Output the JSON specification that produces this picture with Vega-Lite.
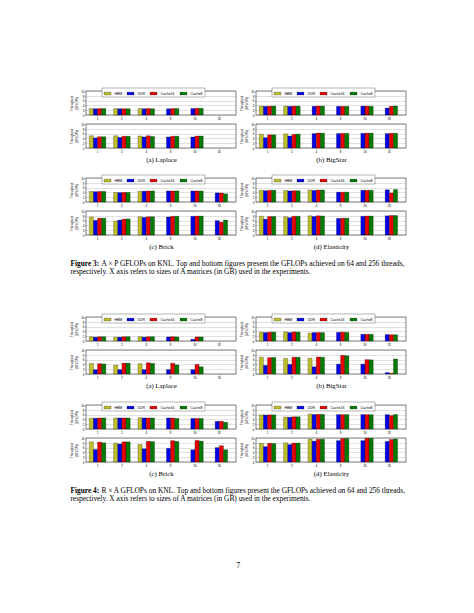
{
"$schema": "https://vega.github.io/schema/vega-lite/v6.json",
"background": "white",
"padding": {"left": 70, "top": 87, "right": 0, "bottom": 0},
"config": {
 "font": "Liberation Sans",
 "view": {"stroke": "black", "strokeWidth": 0.5},
 "range": {"category": ["#bfbf2a", "#0000e6", "#e60000", "#007a00"]},
 "bar": {"stroke": "black", "strokeWidth": 0.25},
 "axis": {"labelFontSize": 3, "labelColor": "black", "tickSize": 1, "tickColor": "black", "tickWidth": 0.3, "labelPadding": 1, "domain": false, "labelOverlap": false},
 "axisX": {"labelAngle": 0, "titleFont": "Liberation Serif", "titleFontSize": 6.8, "titleFontWeight": "normal", "titlePadding": 3, "titleColor": "black"},
 "axisY": {"grid": true, "gridColor": "#999999", "gridWidth": 0.3, "titleFontSize": 3, "titleFontWeight": "normal", "titlePadding": 2, "titleColor": "black", "labelFlush": false},
 "legend": {"orient": "none", "legendX": 16, "legendY": -3, "direction": "horizontal", "columns": 4, "symbolType": "M-1,-0.4H1V0.4H-1Z", "symbolSize": 49, "symbolStrokeWidth": 0.25, "symbolStrokeColor": "black", "symbolOpacity": 1, "labelFontSize": 3.5, "labelColor": "black", "labelOffset": 3, "columnPadding": 4, "padding": 1.5, "strokeColor": "black", "strokeWidth": 0.3, "fillColor": "white"}
},
"datasets": {
"f3a": [
{"threads":64,"size":"1","mem":"HBM","gflops":2.7},{"threads":64,"size":"1","mem":"DDR","gflops":2.6},{"threads":64,"size":"1","mem":"Cache16","gflops":2.7},{"threads":64,"size":"1","mem":"Cache8","gflops":2.7},
{"threads":64,"size":"2","mem":"HBM","gflops":2.7},{"threads":64,"size":"2","mem":"DDR","gflops":2.6},{"threads":64,"size":"2","mem":"Cache16","gflops":2.6},{"threads":64,"size":"2","mem":"Cache8","gflops":2.6},
{"threads":64,"size":"4","mem":"HBM","gflops":2.7},{"threads":64,"size":"4","mem":"DDR","gflops":2.6},{"threads":64,"size":"4","mem":"Cache16","gflops":2.7},{"threads":64,"size":"4","mem":"Cache8","gflops":2.6},
{"threads":64,"size":"8","mem":"DDR","gflops":2.6},{"threads":64,"size":"8","mem":"Cache16","gflops":2.7},{"threads":64,"size":"8","mem":"Cache8","gflops":2.7},
{"threads":64,"size":"16","mem":"DDR","gflops":2.7},{"threads":64,"size":"16","mem":"Cache16","gflops":2.8},{"threads":64,"size":"16","mem":"Cache8","gflops":2.8},
{"threads":256,"size":"1","mem":"HBM","gflops":5.1},{"threads":256,"size":"1","mem":"DDR","gflops":4.2},{"threads":256,"size":"1","mem":"Cache16","gflops":4.7},{"threads":256,"size":"1","mem":"Cache8","gflops":4.7},
{"threads":256,"size":"2","mem":"HBM","gflops":5.1},{"threads":256,"size":"2","mem":"DDR","gflops":4.4},{"threads":256,"size":"2","mem":"Cache16","gflops":4.9},{"threads":256,"size":"2","mem":"Cache8","gflops":4.9},
{"threads":256,"size":"4","mem":"HBM","gflops":5.0},{"threads":256,"size":"4","mem":"DDR","gflops":4.6},{"threads":256,"size":"4","mem":"Cache16","gflops":5.1},{"threads":256,"size":"4","mem":"Cache8","gflops":4.8},
{"threads":256,"size":"8","mem":"DDR","gflops":4.6},{"threads":256,"size":"8","mem":"Cache16","gflops":4.9},{"threads":256,"size":"8","mem":"Cache8","gflops":4.9},
{"threads":256,"size":"16","mem":"DDR","gflops":4.6},{"threads":256,"size":"16","mem":"Cache16","gflops":5.0},{"threads":256,"size":"16","mem":"Cache8","gflops":5.0}
],
"f3b": [
{"threads":64,"size":"1","mem":"HBM","gflops":3.7},{"threads":64,"size":"1","mem":"DDR","gflops":3.6},{"threads":64,"size":"1","mem":"Cache16","gflops":3.7},{"threads":64,"size":"1","mem":"Cache8","gflops":3.7},
{"threads":64,"size":"2","mem":"HBM","gflops":3.7},{"threads":64,"size":"2","mem":"DDR","gflops":3.6},{"threads":64,"size":"2","mem":"Cache16","gflops":3.7},{"threads":64,"size":"2","mem":"Cache8","gflops":3.7},
{"threads":64,"size":"4","mem":"DDR","gflops":3.6},{"threads":64,"size":"4","mem":"Cache16","gflops":3.7},{"threads":64,"size":"4","mem":"Cache8","gflops":3.7},
{"threads":64,"size":"8","mem":"DDR","gflops":3.6},{"threads":64,"size":"8","mem":"Cache16","gflops":3.6},{"threads":64,"size":"8","mem":"Cache8","gflops":3.6},
{"threads":64,"size":"16","mem":"DDR","gflops":3.7},{"threads":64,"size":"16","mem":"Cache16","gflops":3.7},{"threads":64,"size":"16","mem":"Cache8","gflops":3.6},
{"threads":64,"size":"32","mem":"DDR","gflops":2.9},{"threads":64,"size":"32","mem":"Cache16","gflops":3.6},{"threads":64,"size":"32","mem":"Cache8","gflops":3.7},
{"threads":256,"size":"1","mem":"HBM","gflops":5.8},{"threads":256,"size":"1","mem":"DDR","gflops":4.3},{"threads":256,"size":"1","mem":"Cache16","gflops":5.5},{"threads":256,"size":"1","mem":"Cache8","gflops":5.5},
{"threads":256,"size":"2","mem":"HBM","gflops":5.9},{"threads":256,"size":"2","mem":"DDR","gflops":5.0},{"threads":256,"size":"2","mem":"Cache16","gflops":5.7},{"threads":256,"size":"2","mem":"Cache8","gflops":5.8},
{"threads":256,"size":"4","mem":"DDR","gflops":6.0},{"threads":256,"size":"4","mem":"Cache16","gflops":6.2},{"threads":256,"size":"4","mem":"Cache8","gflops":6.2},
{"threads":256,"size":"8","mem":"DDR","gflops":6.0},{"threads":256,"size":"8","mem":"Cache16","gflops":6.1},{"threads":256,"size":"8","mem":"Cache8","gflops":6.1},
{"threads":256,"size":"16","mem":"DDR","gflops":6.1},{"threads":256,"size":"16","mem":"Cache16","gflops":6.2},{"threads":256,"size":"16","mem":"Cache8","gflops":6.2},
{"threads":256,"size":"32","mem":"DDR","gflops":6.0},{"threads":256,"size":"32","mem":"Cache16","gflops":6.1},{"threads":256,"size":"32","mem":"Cache8","gflops":6.1}
],
"f3c": [
{"threads":64,"size":"1","mem":"HBM","gflops":4.4},{"threads":64,"size":"1","mem":"DDR","gflops":4.3},{"threads":64,"size":"1","mem":"Cache16","gflops":4.4},{"threads":64,"size":"1","mem":"Cache8","gflops":4.4},
{"threads":64,"size":"2","mem":"HBM","gflops":4.0},{"threads":64,"size":"2","mem":"DDR","gflops":3.9},{"threads":64,"size":"2","mem":"Cache16","gflops":4.0},{"threads":64,"size":"2","mem":"Cache8","gflops":4.0},
{"threads":64,"size":"4","mem":"HBM","gflops":4.5},{"threads":64,"size":"4","mem":"DDR","gflops":4.5},{"threads":64,"size":"4","mem":"Cache16","gflops":4.6},{"threads":64,"size":"4","mem":"Cache8","gflops":4.6},
{"threads":64,"size":"8","mem":"DDR","gflops":4.6},{"threads":64,"size":"8","mem":"Cache16","gflops":4.6},{"threads":64,"size":"8","mem":"Cache8","gflops":4.6},
{"threads":64,"size":"16","mem":"DDR","gflops":4.6},{"threads":64,"size":"16","mem":"Cache16","gflops":4.6},{"threads":64,"size":"16","mem":"Cache8","gflops":4.6},
{"threads":64,"size":"32","mem":"DDR","gflops":3.8},{"threads":64,"size":"32","mem":"Cache16","gflops":3.7},{"threads":64,"size":"32","mem":"Cache8","gflops":3.4},
{"threads":256,"size":"1","mem":"HBM","gflops":7.5},{"threads":256,"size":"1","mem":"DDR","gflops":6.1},{"threads":256,"size":"1","mem":"Cache16","gflops":7.0},{"threads":256,"size":"1","mem":"Cache8","gflops":7.0},
{"threads":256,"size":"2","mem":"HBM","gflops":5.8},{"threads":256,"size":"2","mem":"DDR","gflops":6.2},{"threads":256,"size":"2","mem":"Cache16","gflops":6.6},{"threads":256,"size":"2","mem":"Cache8","gflops":6.7},
{"threads":256,"size":"4","mem":"HBM","gflops":7.6},{"threads":256,"size":"4","mem":"DDR","gflops":7.3},{"threads":256,"size":"4","mem":"Cache16","gflops":7.6},{"threads":256,"size":"4","mem":"Cache8","gflops":7.6},
{"threads":256,"size":"8","mem":"DDR","gflops":7.5},{"threads":256,"size":"8","mem":"Cache16","gflops":7.8},{"threads":256,"size":"8","mem":"Cache8","gflops":7.8},
{"threads":256,"size":"16","mem":"DDR","gflops":7.8},{"threads":256,"size":"16","mem":"Cache16","gflops":7.9},{"threads":256,"size":"16","mem":"Cache8","gflops":7.9},
{"threads":256,"size":"32","mem":"DDR","gflops":6.0},{"threads":256,"size":"32","mem":"Cache16","gflops":5.3},{"threads":256,"size":"32","mem":"Cache8","gflops":6.2}
],
"f3d": [
{"threads":64,"size":"1","mem":"HBM","gflops":4.9},{"threads":64,"size":"1","mem":"DDR","gflops":4.7},{"threads":64,"size":"1","mem":"Cache16","gflops":4.9},{"threads":64,"size":"1","mem":"Cache8","gflops":4.9},
{"threads":64,"size":"2","mem":"HBM","gflops":4.8},{"threads":64,"size":"2","mem":"DDR","gflops":4.6},{"threads":64,"size":"2","mem":"Cache16","gflops":4.7},{"threads":64,"size":"2","mem":"Cache8","gflops":4.7},
{"threads":64,"size":"4","mem":"HBM","gflops":5.0},{"threads":64,"size":"4","mem":"DDR","gflops":4.8},{"threads":64,"size":"4","mem":"Cache16","gflops":5.0},{"threads":64,"size":"4","mem":"Cache8","gflops":5.0},
{"threads":64,"size":"8","mem":"DDR","gflops":4.1},{"threads":64,"size":"8","mem":"Cache16","gflops":4.1},{"threads":64,"size":"8","mem":"Cache8","gflops":4.1},
{"threads":64,"size":"16","mem":"DDR","gflops":4.9},{"threads":64,"size":"16","mem":"Cache16","gflops":4.9},{"threads":64,"size":"16","mem":"Cache8","gflops":4.9},
{"threads":64,"size":"32","mem":"DDR","gflops":5.1},{"threads":64,"size":"32","mem":"Cache16","gflops":3.8},{"threads":64,"size":"32","mem":"Cache8","gflops":5.2},
{"threads":256,"size":"1","mem":"HBM","gflops":7.8},{"threads":256,"size":"1","mem":"DDR","gflops":6.6},{"threads":256,"size":"1","mem":"Cache16","gflops":7.7},{"threads":256,"size":"1","mem":"Cache8","gflops":7.7},
{"threads":256,"size":"2","mem":"HBM","gflops":7.6},{"threads":256,"size":"2","mem":"DDR","gflops":7.2},{"threads":256,"size":"2","mem":"Cache16","gflops":7.8},{"threads":256,"size":"2","mem":"Cache8","gflops":7.8},
{"threads":256,"size":"4","mem":"HBM","gflops":8.0},{"threads":256,"size":"4","mem":"DDR","gflops":7.7},{"threads":256,"size":"4","mem":"Cache16","gflops":8.0},{"threads":256,"size":"4","mem":"Cache8","gflops":7.9},
{"threads":256,"size":"8","mem":"DDR","gflops":6.9},{"threads":256,"size":"8","mem":"Cache16","gflops":7.0},{"threads":256,"size":"8","mem":"Cache8","gflops":7.0},
{"threads":256,"size":"16","mem":"DDR","gflops":7.8},{"threads":256,"size":"16","mem":"Cache16","gflops":7.9},{"threads":256,"size":"16","mem":"Cache8","gflops":7.9},
{"threads":256,"size":"32","mem":"DDR","gflops":8.0},{"threads":256,"size":"32","mem":"Cache16","gflops":8.1},{"threads":256,"size":"32","mem":"Cache8","gflops":8.1}
],
"f4a": [
{"threads":64,"size":"1","mem":"HBM","gflops":1.8},{"threads":64,"size":"1","mem":"DDR","gflops":1.6},{"threads":64,"size":"1","mem":"Cache16","gflops":1.8},{"threads":64,"size":"1","mem":"Cache8","gflops":1.8},
{"threads":64,"size":"2","mem":"HBM","gflops":1.6},{"threads":64,"size":"2","mem":"DDR","gflops":1.6},{"threads":64,"size":"2","mem":"Cache16","gflops":1.8},{"threads":64,"size":"2","mem":"Cache8","gflops":1.8},
{"threads":64,"size":"4","mem":"HBM","gflops":1.8},{"threads":64,"size":"4","mem":"DDR","gflops":1.6},{"threads":64,"size":"4","mem":"Cache16","gflops":1.8},{"threads":64,"size":"4","mem":"Cache8","gflops":1.8},
{"threads":64,"size":"8","mem":"DDR","gflops":1.7},{"threads":64,"size":"8","mem":"Cache16","gflops":1.8},{"threads":64,"size":"8","mem":"Cache8","gflops":1.7},
{"threads":64,"size":"16","mem":"DDR","gflops":0.7},{"threads":64,"size":"16","mem":"Cache16","gflops":1.7},{"threads":64,"size":"16","mem":"Cache8","gflops":1.7},
{"threads":256,"size":"1","mem":"HBM","gflops":4.4},{"threads":256,"size":"1","mem":"DDR","gflops":1.8},{"threads":256,"size":"1","mem":"Cache16","gflops":4.3},{"threads":256,"size":"1","mem":"Cache8","gflops":4.2},
{"threads":256,"size":"2","mem":"HBM","gflops":3.7},{"threads":256,"size":"2","mem":"DDR","gflops":1.8},{"threads":256,"size":"2","mem":"Cache16","gflops":4.5},{"threads":256,"size":"2","mem":"Cache8","gflops":4.5},
{"threads":256,"size":"4","mem":"HBM","gflops":4.3},{"threads":256,"size":"4","mem":"DDR","gflops":1.8},{"threads":256,"size":"4","mem":"Cache16","gflops":4.7},{"threads":256,"size":"4","mem":"Cache8","gflops":4.4},
{"threads":256,"size":"8","mem":"DDR","gflops":1.8},{"threads":256,"size":"8","mem":"Cache16","gflops":4.5},{"threads":256,"size":"8","mem":"Cache8","gflops":3.8},
{"threads":256,"size":"16","mem":"DDR","gflops":1.8},{"threads":256,"size":"16","mem":"Cache16","gflops":4.0},{"threads":256,"size":"16","mem":"Cache8","gflops":3.0}
],
"f4b": [
{"threads":64,"size":"1","mem":"HBM","gflops":3.7},{"threads":64,"size":"1","mem":"DDR","gflops":3.5},{"threads":64,"size":"1","mem":"Cache16","gflops":3.7},{"threads":64,"size":"1","mem":"Cache8","gflops":3.7},
{"threads":64,"size":"2","mem":"HBM","gflops":3.8},{"threads":64,"size":"2","mem":"DDR","gflops":3.5},{"threads":64,"size":"2","mem":"Cache16","gflops":3.8},{"threads":64,"size":"2","mem":"Cache8","gflops":3.7},
{"threads":64,"size":"4","mem":"HBM","gflops":3.3},{"threads":64,"size":"4","mem":"DDR","gflops":3.5},{"threads":64,"size":"4","mem":"Cache16","gflops":3.5},{"threads":64,"size":"4","mem":"Cache8","gflops":3.5},
{"threads":64,"size":"8","mem":"DDR","gflops":3.6},{"threads":64,"size":"8","mem":"Cache16","gflops":3.7},{"threads":64,"size":"8","mem":"Cache8","gflops":3.6},
{"threads":64,"size":"16","mem":"DDR","gflops":2.8},{"threads":64,"size":"16","mem":"Cache16","gflops":2.8},{"threads":64,"size":"16","mem":"Cache8","gflops":2.8},
{"threads":64,"size":"32","mem":"DDR","gflops":2.7},{"threads":64,"size":"32","mem":"Cache16","gflops":2.6},{"threads":64,"size":"32","mem":"Cache8","gflops":2.6},
{"threads":256,"size":"1","mem":"HBM","gflops":7.0},{"threads":256,"size":"1","mem":"DDR","gflops":3.6},{"threads":256,"size":"1","mem":"Cache16","gflops":6.8},{"threads":256,"size":"1","mem":"Cache8","gflops":6.9},
{"threads":256,"size":"2","mem":"HBM","gflops":6.5},{"threads":256,"size":"2","mem":"DDR","gflops":4.0},{"threads":256,"size":"2","mem":"Cache16","gflops":7.0},{"threads":256,"size":"2","mem":"Cache8","gflops":7.0},
{"threads":256,"size":"4","mem":"HBM","gflops":6.6},{"threads":256,"size":"4","mem":"DDR","gflops":3.0},{"threads":256,"size":"4","mem":"Cache16","gflops":7.1},{"threads":256,"size":"4","mem":"Cache8","gflops":7.0},
{"threads":256,"size":"8","mem":"DDR","gflops":4.1},{"threads":256,"size":"8","mem":"Cache16","gflops":7.8},{"threads":256,"size":"8","mem":"Cache8","gflops":7.6},
{"threads":256,"size":"16","mem":"DDR","gflops":4.1},{"threads":256,"size":"16","mem":"Cache16","gflops":6.0},{"threads":256,"size":"16","mem":"Cache8","gflops":5.9},
{"threads":256,"size":"32","mem":"DDR","gflops":0.6},{"threads":256,"size":"32","mem":"Cache16","gflops":0.3},{"threads":256,"size":"32","mem":"Cache8","gflops":6.3}
],
"f4c": [
{"threads":64,"size":"1","mem":"HBM","gflops":4.5},{"threads":64,"size":"1","mem":"DDR","gflops":4.5},{"threads":64,"size":"1","mem":"Cache16","gflops":4.6},{"threads":64,"size":"1","mem":"Cache8","gflops":4.6},
{"threads":64,"size":"2","mem":"HBM","gflops":4.6},{"threads":64,"size":"2","mem":"DDR","gflops":4.6},{"threads":64,"size":"2","mem":"Cache16","gflops":4.6},{"threads":64,"size":"2","mem":"Cache8","gflops":4.6},
{"threads":64,"size":"4","mem":"HBM","gflops":4.7},{"threads":64,"size":"4","mem":"DDR","gflops":4.6},{"threads":64,"size":"4","mem":"Cache16","gflops":4.6},{"threads":64,"size":"4","mem":"Cache8","gflops":4.6},
{"threads":64,"size":"8","mem":"DDR","gflops":4.6},{"threads":64,"size":"8","mem":"Cache16","gflops":4.6},{"threads":64,"size":"8","mem":"Cache8","gflops":4.4},
{"threads":64,"size":"16","mem":"DDR","gflops":4.4},{"threads":64,"size":"16","mem":"Cache16","gflops":4.4},{"threads":64,"size":"16","mem":"Cache8","gflops":4.4},
{"threads":64,"size":"32","mem":"DDR","gflops":3.2},{"threads":64,"size":"32","mem":"Cache16","gflops":3.2},{"threads":64,"size":"32","mem":"Cache8","gflops":2.8},
{"threads":256,"size":"1","mem":"HBM","gflops":8.4},{"threads":256,"size":"1","mem":"DDR","gflops":5.2},{"threads":256,"size":"1","mem":"Cache16","gflops":8.3},{"threads":256,"size":"1","mem":"Cache8","gflops":8.0},
{"threads":256,"size":"2","mem":"HBM","gflops":7.9},{"threads":256,"size":"2","mem":"DDR","gflops":7.5},{"threads":256,"size":"2","mem":"Cache16","gflops":8.4},{"threads":256,"size":"2","mem":"Cache8","gflops":8.4},
{"threads":256,"size":"4","mem":"HBM","gflops":7.3},{"threads":256,"size":"4","mem":"DDR","gflops":5.5},{"threads":256,"size":"4","mem":"Cache16","gflops":8.6},{"threads":256,"size":"4","mem":"Cache8","gflops":8.5},
{"threads":256,"size":"8","mem":"DDR","gflops":5.7},{"threads":256,"size":"8","mem":"Cache16","gflops":8.9},{"threads":256,"size":"8","mem":"Cache8","gflops":8.6},
{"threads":256,"size":"16","mem":"DDR","gflops":5.1},{"threads":256,"size":"16","mem":"Cache16","gflops":9.0},{"threads":256,"size":"16","mem":"Cache8","gflops":8.7},
{"threads":256,"size":"32","mem":"DDR","gflops":6.0},{"threads":256,"size":"32","mem":"Cache16","gflops":6.8},{"threads":256,"size":"32","mem":"Cache8","gflops":5.1}
],
"f4d": [
{"threads":64,"size":"1","mem":"HBM","gflops":5.9},{"threads":64,"size":"1","mem":"DDR","gflops":5.8},{"threads":64,"size":"1","mem":"Cache16","gflops":5.9},{"threads":64,"size":"1","mem":"Cache8","gflops":5.9},
{"threads":64,"size":"2","mem":"HBM","gflops":5.0},{"threads":64,"size":"2","mem":"DDR","gflops":4.9},{"threads":64,"size":"2","mem":"Cache16","gflops":5.1},{"threads":64,"size":"2","mem":"Cache8","gflops":5.1},
{"threads":64,"size":"4","mem":"HBM","gflops":6.2},{"threads":64,"size":"4","mem":"DDR","gflops":6.0},{"threads":64,"size":"4","mem":"Cache16","gflops":6.1},{"threads":64,"size":"4","mem":"Cache8","gflops":6.1},
{"threads":64,"size":"8","mem":"DDR","gflops":6.0},{"threads":64,"size":"8","mem":"Cache16","gflops":6.0},{"threads":64,"size":"8","mem":"Cache8","gflops":6.0},
{"threads":64,"size":"16","mem":"DDR","gflops":6.0},{"threads":64,"size":"16","mem":"Cache16","gflops":6.0},{"threads":64,"size":"16","mem":"Cache8","gflops":6.0},
{"threads":64,"size":"32","mem":"DDR","gflops":6.0},{"threads":64,"size":"32","mem":"Cache16","gflops":5.6},{"threads":64,"size":"32","mem":"Cache8","gflops":6.0},
{"threads":256,"size":"1","mem":"HBM","gflops":7.8},{"threads":256,"size":"1","mem":"DDR","gflops":6.4},{"threads":256,"size":"1","mem":"Cache16","gflops":7.8},{"threads":256,"size":"1","mem":"Cache8","gflops":7.7},
{"threads":256,"size":"2","mem":"HBM","gflops":8.0},{"threads":256,"size":"2","mem":"DDR","gflops":7.3},{"threads":256,"size":"2","mem":"Cache16","gflops":7.9},{"threads":256,"size":"2","mem":"Cache8","gflops":7.9},
{"threads":256,"size":"4","mem":"HBM","gflops":9.5},{"threads":256,"size":"4","mem":"DDR","gflops":8.7},{"threads":256,"size":"4","mem":"Cache16","gflops":9.5},{"threads":256,"size":"4","mem":"Cache8","gflops":9.5},
{"threads":256,"size":"8","mem":"DDR","gflops":8.9},{"threads":256,"size":"8","mem":"Cache16","gflops":9.8},{"threads":256,"size":"8","mem":"Cache8","gflops":9.8},
{"threads":256,"size":"16","mem":"DDR","gflops":8.9},{"threads":256,"size":"16","mem":"Cache16","gflops":9.9},{"threads":256,"size":"16","mem":"Cache8","gflops":9.9},
{"threads":256,"size":"32","mem":"DDR","gflops":8.6},{"threads":256,"size":"32","mem":"Cache16","gflops":9.4},{"threads":256,"size":"32","mem":"Cache8","gflops":9.6}
]
},
"title": {"text": "7", "orient": "bottom", "anchor": "middle", "offset": 60, "font": "Liberation Serif", "fontSize": 7.5, "fontWeight": "normal", "color": "black"},
"resolve": {"scale": {"color": "independent"}, "legend": {"color": "independent"}},
"spacing": 37,
"vconcat": [
{
 "title": {"text": "respectively. X axis refers to sizes of A matrices (in GB) used in the experiments.", "orient": "bottom", "anchor": "start", "offset": 0.6, "font": "Liberation Serif", "fontSize": 7.4, "fontWeight": "normal", "color": "black"},
 "resolve": {"scale": {"color": "independent"}, "legend": {"color": "independent"}},
 "vconcat": [
{
 "title": {"text": "A × P GFLOPs on KNL. Top and bottom figures present the GFLOPs achieved on 64 and 256 threads,", "orient": "bottom", "anchor": "start", "offset": -7.4, "dx": 31, "font": "Liberation Serif", "fontSize": 7.4, "fontWeight": "normal", "color": "black"},
 "resolve": {"scale": {"color": "independent"}, "legend": {"color": "independent"}},
 "spacing": 10,
 "vconcat": [
  {"hconcat": [
   {"vconcat": [
    {"width":150,"height":24,"data":{"name":"f3a"},"transform":[{"filter":"datum.threads==64"}],"mark":"bar","encoding":{"x":{"field":"size","type":"ordinal","scale":{"domain":["1","2","4","8","16","32"],"paddingInner":0.32,"paddingOuter":0.24,"align":0.28},"axis":{"title":null}},"xOffset":{"field":"mem","type":"nominal","scale":{"domain":["HBM","DDR","Cache16","Cache8"]}},"y":{"field":"gflops","type":"quantitative","scale":{"domain":[0,10]},"axis":{"values":[0,2,4,6,8,10],"title":["Throughput","(GFLOPs)"]}},"color":{"field":"mem","type":"nominal","scale":{"domain":["HBM","DDR","Cache16","Cache8"]},"legend":{"title":null}}}},
    {"width":150,"height":24,"data":{"name":"f3a"},"transform":[{"filter":"datum.threads==256"}],"mark":"bar","encoding":{"x":{"field":"size","type":"ordinal","scale":{"domain":["1","2","4","8","16","32"],"paddingInner":0.32,"paddingOuter":0.24,"align":0.28},"axis":{"title":"(a) Laplace"}},"xOffset":{"field":"mem","type":"nominal","scale":{"domain":["HBM","DDR","Cache16","Cache8"]}},"y":{"field":"gflops","type":"quantitative","scale":{"domain":[0,10]},"axis":{"values":[0,2,4,6,8,10],"title":["Throughput","(GFLOPs)"]}},"color":{"field":"mem","type":"nominal","scale":{"domain":["HBM","DDR","Cache16","Cache8"]},"legend":null}}}
   ], "spacing": 1, "resolve": {"scale": {"color": "independent"}, "legend": {"color": "independent"}}},
   {"vconcat": [
    {"width":150,"height":24,"data":{"name":"f3b"},"transform":[{"filter":"datum.threads==64"}],"mark":"bar","encoding":{"x":{"field":"size","type":"ordinal","scale":{"domain":["1","2","4","8","16","32"],"paddingInner":0.32,"paddingOuter":0.24,"align":0.28},"axis":{"title":null}},"xOffset":{"field":"mem","type":"nominal","scale":{"domain":["HBM","DDR","Cache16","Cache8"]}},"y":{"field":"gflops","type":"quantitative","scale":{"domain":[0,10]},"axis":{"values":[0,2,4,6,8,10],"title":["Throughput","(GFLOPs)"]}},"color":{"field":"mem","type":"nominal","scale":{"domain":["HBM","DDR","Cache16","Cache8"]},"legend":{"title":null}}}},
    {"width":150,"height":24,"data":{"name":"f3b"},"transform":[{"filter":"datum.threads==256"}],"mark":"bar","encoding":{"x":{"field":"size","type":"ordinal","scale":{"domain":["1","2","4","8","16","32"],"paddingInner":0.32,"paddingOuter":0.24,"align":0.28},"axis":{"title":"(b) BigStar"}},"xOffset":{"field":"mem","type":"nominal","scale":{"domain":["HBM","DDR","Cache16","Cache8"]}},"y":{"field":"gflops","type":"quantitative","scale":{"domain":[0,10]},"axis":{"values":[0,2,4,6,8,10],"title":["Throughput","(GFLOPs)"]}},"color":{"field":"mem","type":"nominal","scale":{"domain":["HBM","DDR","Cache16","Cache8"]},"legend":null}}}
   ], "spacing": 1, "resolve": {"scale": {"color": "independent"}, "legend": {"color": "independent"}}}
  ], "spacing": 3, "resolve": {"scale": {"color": "independent"}, "legend": {"color": "independent"}}},
  {"title": {"text": "Figure 3:", "orient": "bottom", "anchor": "start", "offset": 10, "font": "Liberation Serif", "fontSize": 7.4, "fontWeight": "bold", "color": "black"},
   "hconcat": [
   {"vconcat": [
    {"width":150,"height":24,"data":{"name":"f3c"},"transform":[{"filter":"datum.threads==64"}],"mark":"bar","encoding":{"x":{"field":"size","type":"ordinal","scale":{"domain":["1","2","4","8","16","32"],"paddingInner":0.32,"paddingOuter":0.24,"align":0.28},"axis":{"title":null}},"xOffset":{"field":"mem","type":"nominal","scale":{"domain":["HBM","DDR","Cache16","Cache8"]}},"y":{"field":"gflops","type":"quantitative","scale":{"domain":[0,10]},"axis":{"values":[0,2,4,6,8,10],"title":["Throughput","(GFLOPs)"]}},"color":{"field":"mem","type":"nominal","scale":{"domain":["HBM","DDR","Cache16","Cache8"]},"legend":{"title":null}}}},
    {"width":150,"height":24,"data":{"name":"f3c"},"transform":[{"filter":"datum.threads==256"}],"mark":"bar","encoding":{"x":{"field":"size","type":"ordinal","scale":{"domain":["1","2","4","8","16","32"],"paddingInner":0.32,"paddingOuter":0.24,"align":0.28},"axis":{"title":"(c) Brick"}},"xOffset":{"field":"mem","type":"nominal","scale":{"domain":["HBM","DDR","Cache16","Cache8"]}},"y":{"field":"gflops","type":"quantitative","scale":{"domain":[0,10]},"axis":{"values":[0,2,4,6,8,10],"title":["Throughput","(GFLOPs)"]}},"color":{"field":"mem","type":"nominal","scale":{"domain":["HBM","DDR","Cache16","Cache8"]},"legend":null}}}
   ], "spacing": 1, "resolve": {"scale": {"color": "independent"}, "legend": {"color": "independent"}}},
   {"vconcat": [
    {"width":150,"height":24,"data":{"name":"f3d"},"transform":[{"filter":"datum.threads==64"}],"mark":"bar","encoding":{"x":{"field":"size","type":"ordinal","scale":{"domain":["1","2","4","8","16","32"],"paddingInner":0.32,"paddingOuter":0.24,"align":0.28},"axis":{"title":null}},"xOffset":{"field":"mem","type":"nominal","scale":{"domain":["HBM","DDR","Cache16","Cache8"]}},"y":{"field":"gflops","type":"quantitative","scale":{"domain":[0,10]},"axis":{"values":[0,2,4,6,8,10],"title":["Throughput","(GFLOPs)"]}},"color":{"field":"mem","type":"nominal","scale":{"domain":["HBM","DDR","Cache16","Cache8"]},"legend":{"title":null}}}},
    {"width":150,"height":24,"data":{"name":"f3d"},"transform":[{"filter":"datum.threads==256"}],"mark":"bar","encoding":{"x":{"field":"size","type":"ordinal","scale":{"domain":["1","2","4","8","16","32"],"paddingInner":0.32,"paddingOuter":0.24,"align":0.28},"axis":{"title":"(d) Elasticity"}},"xOffset":{"field":"mem","type":"nominal","scale":{"domain":["HBM","DDR","Cache16","Cache8"]}},"y":{"field":"gflops","type":"quantitative","scale":{"domain":[0,10]},"axis":{"values":[0,2,4,6,8,10],"title":["Throughput","(GFLOPs)"]}},"color":{"field":"mem","type":"nominal","scale":{"domain":["HBM","DDR","Cache16","Cache8"]},"legend":null}}}
   ], "spacing": 1, "resolve": {"scale": {"color": "independent"}, "legend": {"color": "independent"}}}
  ], "spacing": 3, "resolve": {"scale": {"color": "independent"}, "legend": {"color": "independent"}}}
 ]
}
 ]
},
{
 "title": {"text": "respectively. X axis refers to sizes of A matrices (in GB) used in the experiments.", "orient": "bottom", "anchor": "start", "offset": 0.6, "font": "Liberation Serif", "fontSize": 7.4, "fontWeight": "normal", "color": "black"},
 "resolve": {"scale": {"color": "independent"}, "legend": {"color": "independent"}},
 "vconcat": [
{
 "title": {"text": "R × A GFLOPs on KNL. Top and bottom figures present the GFLOPs achieved on 64 and 256 threads,", "orient": "bottom", "anchor": "start", "offset": -7.4, "dx": 31, "font": "Liberation Serif", "fontSize": 7.4, "fontWeight": "normal", "color": "black"},
 "resolve": {"scale": {"color": "independent"}, "legend": {"color": "independent"}},
 "spacing": 11,
 "vconcat": [
  {"hconcat": [
   {"vconcat": [
    {"width":150,"height":24,"data":{"name":"f4a"},"transform":[{"filter":"datum.threads==64"}],"mark":"bar","encoding":{"x":{"field":"size","type":"ordinal","scale":{"domain":["1","2","4","8","16","32"],"paddingInner":0.32,"paddingOuter":0.24,"align":0.28},"axis":{"title":null}},"xOffset":{"field":"mem","type":"nominal","scale":{"domain":["HBM","DDR","Cache16","Cache8"]}},"y":{"field":"gflops","type":"quantitative","scale":{"domain":[0,10]},"axis":{"values":[0,2,4,6,8,10],"title":["Throughput","(GFLOPs)"]}},"color":{"field":"mem","type":"nominal","scale":{"domain":["HBM","DDR","Cache16","Cache8"]},"legend":{"title":null}}}},
    {"width":150,"height":24,"data":{"name":"f4a"},"transform":[{"filter":"datum.threads==256"}],"mark":"bar","encoding":{"x":{"field":"size","type":"ordinal","scale":{"domain":["1","2","4","8","16","32"],"paddingInner":0.32,"paddingOuter":0.24,"align":0.28},"axis":{"title":"(a) Laplace"}},"xOffset":{"field":"mem","type":"nominal","scale":{"domain":["HBM","DDR","Cache16","Cache8"]}},"y":{"field":"gflops","type":"quantitative","scale":{"domain":[0,10]},"axis":{"values":[0,2,4,6,8,10],"title":["Throughput","(GFLOPs)"]}},"color":{"field":"mem","type":"nominal","scale":{"domain":["HBM","DDR","Cache16","Cache8"]},"legend":null}}}
   ], "spacing": 1, "resolve": {"scale": {"color": "independent"}, "legend": {"color": "independent"}}},
   {"vconcat": [
    {"width":150,"height":24,"data":{"name":"f4b"},"transform":[{"filter":"datum.threads==64"}],"mark":"bar","encoding":{"x":{"field":"size","type":"ordinal","scale":{"domain":["1","2","4","8","16","32"],"paddingInner":0.32,"paddingOuter":0.24,"align":0.28},"axis":{"title":null}},"xOffset":{"field":"mem","type":"nominal","scale":{"domain":["HBM","DDR","Cache16","Cache8"]}},"y":{"field":"gflops","type":"quantitative","scale":{"domain":[0,10]},"axis":{"values":[0,2,4,6,8,10],"title":["Throughput","(GFLOPs)"]}},"color":{"field":"mem","type":"nominal","scale":{"domain":["HBM","DDR","Cache16","Cache8"]},"legend":{"title":null}}}},
    {"width":150,"height":24,"data":{"name":"f4b"},"transform":[{"filter":"datum.threads==256"}],"mark":"bar","encoding":{"x":{"field":"size","type":"ordinal","scale":{"domain":["1","2","4","8","16","32"],"paddingInner":0.32,"paddingOuter":0.24,"align":0.28},"axis":{"title":"(b) BigStar"}},"xOffset":{"field":"mem","type":"nominal","scale":{"domain":["HBM","DDR","Cache16","Cache8"]}},"y":{"field":"gflops","type":"quantitative","scale":{"domain":[0,10]},"axis":{"values":[0,2,4,6,8,10],"title":["Throughput","(GFLOPs)"]}},"color":{"field":"mem","type":"nominal","scale":{"domain":["HBM","DDR","Cache16","Cache8"]},"legend":null}}}
   ], "spacing": 1, "resolve": {"scale": {"color": "independent"}, "legend": {"color": "independent"}}}
  ], "spacing": 3, "resolve": {"scale": {"color": "independent"}, "legend": {"color": "independent"}}},
  {"title": {"text": "Figure 4:", "orient": "bottom", "anchor": "start", "offset": 10, "font": "Liberation Serif", "fontSize": 7.4, "fontWeight": "bold", "color": "black"},
   "hconcat": [
   {"vconcat": [
    {"width":150,"height":24,"data":{"name":"f4c"},"transform":[{"filter":"datum.threads==64"}],"mark":"bar","encoding":{"x":{"field":"size","type":"ordinal","scale":{"domain":["1","2","4","8","16","32"],"paddingInner":0.32,"paddingOuter":0.24,"align":0.28},"axis":{"title":null}},"xOffset":{"field":"mem","type":"nominal","scale":{"domain":["HBM","DDR","Cache16","Cache8"]}},"y":{"field":"gflops","type":"quantitative","scale":{"domain":[0,10]},"axis":{"values":[0,2,4,6,8,10],"title":["Throughput","(GFLOPs)"]}},"color":{"field":"mem","type":"nominal","scale":{"domain":["HBM","DDR","Cache16","Cache8"]},"legend":{"title":null}}}},
    {"width":150,"height":24,"data":{"name":"f4c"},"transform":[{"filter":"datum.threads==256"}],"mark":"bar","encoding":{"x":{"field":"size","type":"ordinal","scale":{"domain":["1","2","4","8","16","32"],"paddingInner":0.32,"paddingOuter":0.24,"align":0.28},"axis":{"title":"(c) Brick"}},"xOffset":{"field":"mem","type":"nominal","scale":{"domain":["HBM","DDR","Cache16","Cache8"]}},"y":{"field":"gflops","type":"quantitative","scale":{"domain":[0,10]},"axis":{"values":[0,2,4,6,8,10],"title":["Throughput","(GFLOPs)"]}},"color":{"field":"mem","type":"nominal","scale":{"domain":["HBM","DDR","Cache16","Cache8"]},"legend":null}}}
   ], "spacing": 1, "resolve": {"scale": {"color": "independent"}, "legend": {"color": "independent"}}},
   {"vconcat": [
    {"width":150,"height":24,"data":{"name":"f4d"},"transform":[{"filter":"datum.threads==64"}],"mark":"bar","encoding":{"x":{"field":"size","type":"ordinal","scale":{"domain":["1","2","4","8","16","32"],"paddingInner":0.32,"paddingOuter":0.24,"align":0.28},"axis":{"title":null}},"xOffset":{"field":"mem","type":"nominal","scale":{"domain":["HBM","DDR","Cache16","Cache8"]}},"y":{"field":"gflops","type":"quantitative","scale":{"domain":[0,10]},"axis":{"values":[0,2,4,6,8,10],"title":["Throughput","(GFLOPs)"]}},"color":{"field":"mem","type":"nominal","scale":{"domain":["HBM","DDR","Cache16","Cache8"]},"legend":{"title":null}}}},
    {"width":150,"height":24,"data":{"name":"f4d"},"transform":[{"filter":"datum.threads==256"}],"mark":"bar","encoding":{"x":{"field":"size","type":"ordinal","scale":{"domain":["1","2","4","8","16","32"],"paddingInner":0.32,"paddingOuter":0.24,"align":0.28},"axis":{"title":"(d) Elasticity"}},"xOffset":{"field":"mem","type":"nominal","scale":{"domain":["HBM","DDR","Cache16","Cache8"]}},"y":{"field":"gflops","type":"quantitative","scale":{"domain":[0,10]},"axis":{"values":[0,2,4,6,8,10],"title":["Throughput","(GFLOPs)"]}},"color":{"field":"mem","type":"nominal","scale":{"domain":["HBM","DDR","Cache16","Cache8"]},"legend":null}}}
   ], "spacing": 1, "resolve": {"scale": {"color": "independent"}, "legend": {"color": "independent"}}}
  ], "spacing": 3, "resolve": {"scale": {"color": "independent"}, "legend": {"color": "independent"}}}
 ]
}
 ]
}
]
}
